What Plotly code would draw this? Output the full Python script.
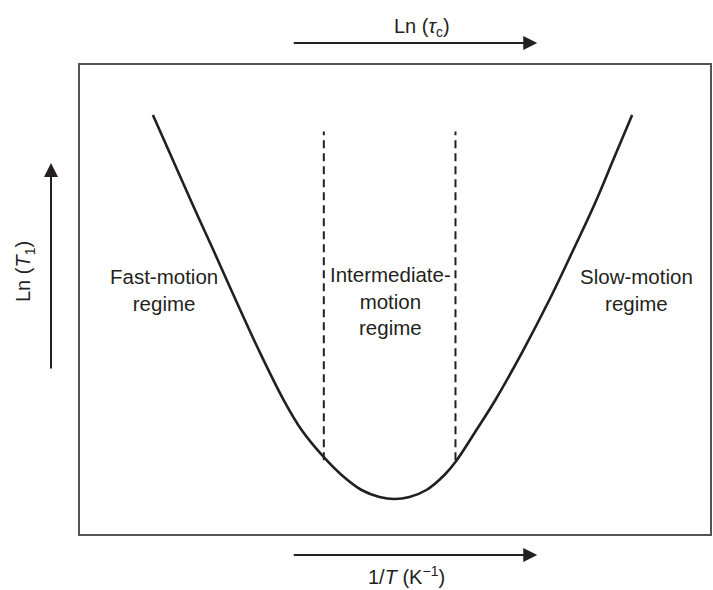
import plotly.graph_objects as go

# Curve (arbitrary units, 0..10 on both axes)
curve_x = [1.157, 1.474, 1.791, 2.116, 2.472, 2.837, 3.233, 3.518, 3.867, 4.152, 4.469, 4.754, 4.992,
           5.230, 5.499, 5.784, 5.959, 6.292, 6.593, 7.037, 7.449, 7.829, 8.162, 8.463, 8.764]
curve_y = [8.934, 7.974, 7.015, 6.055, 4.989, 3.923, 2.857, 2.217, 1.642, 1.258, 0.938, 0.789, 0.746,
           0.789, 0.938, 1.258, 1.535, 2.217, 2.857, 3.923, 4.989, 6.055, 7.015, 7.974, 8.934]

# Regime boundaries (dashed lines)
boundary_x = [3.87, 5.96]
boundary_y = [1.57, 8.58]

regime_labels = ["Fast-motion<br>regime", "Intermediate-<br>motion<br>regime", "Slow-motion<br>regime"]
regime_x = [1.33, 4.93, 8.83]
regime_y = [5.20, 4.97, 5.20]

FONT = "Liberation Sans, Arial, Helvetica, sans-serif"
INK = "#231f20"

fig = go.Figure()
for bx in boundary_x:
    fig.add_trace(go.Scatter(x=[bx, bx], y=boundary_y, mode="lines",
                             line=dict(color=INK, width=2, dash="8px,5px"),
                             hoverinfo="skip", showlegend=False))
fig.add_trace(go.Scatter(x=curve_x, y=curve_y, mode="lines",
                         line=dict(color=INK, width=2.6, shape="spline", smoothing=1.0),
                         showlegend=False))

annotations = []
for t, x, y in zip(regime_labels, regime_x, regime_y):
    annotations.append(dict(x=x, y=y, xref="x", yref="y", text=t, showarrow=False,
                            xanchor="center", yanchor="middle",
                            font=dict(family=FONT, size=20.5, color=INK), align="center"))

# Axis arrows (paper coords)
arrow_common = dict(showarrow=True, arrowhead=2, arrowsize=1.4, arrowwidth=2,
                    arrowcolor=INK, text="", axref="pixel", ayref="pixel",
                    xref="paper", yref="paper")
annotations.append(dict(x=0.7258, y=1.0469, ax=-245, ay=0, **arrow_common))
annotations.append(dict(x=0.7258, y=-0.0448, ax=-245, ay=0, **arrow_common))
annotations.append(dict(x=-0.046, y=0.791, ax=0, ay=207, **arrow_common))

label_common = dict(xref="paper", yref="paper", showarrow=False,
                    xanchor="center", yanchor="middle",
                    font=dict(family=FONT, size=20, color=INK))
annotations.append(dict(x=0.5436, y=1.081, text="Ln (<i>τ</i><sub>c</sub>)", **label_common))
annotations.append(dict(x=0.518, y=-0.088, text="1/<i>T</i> (K<sup>−1</sup>)", **label_common))
annotations.append(dict(x=-0.087, y=0.559, text="Ln (<i>T</i><sub>1</sub>)", textangle=-90,
                        **label_common))

fig.update_layout(
    width=713, height=590,
    margin=dict(l=80, r=1, t=65, b=56),
    paper_bgcolor="white", plot_bgcolor="white",
    annotations=annotations,
    xaxis=dict(range=[0, 10], showgrid=False, zeroline=False, showticklabels=False,
               ticks="", showline=True, mirror=True, linecolor="#555", linewidth=2),
    yaxis=dict(range=[0, 10], showgrid=False, zeroline=False, showticklabels=False,
               ticks="", showline=True, mirror=True, linecolor="#555", linewidth=2),
)

fig.write_html("out.html")
